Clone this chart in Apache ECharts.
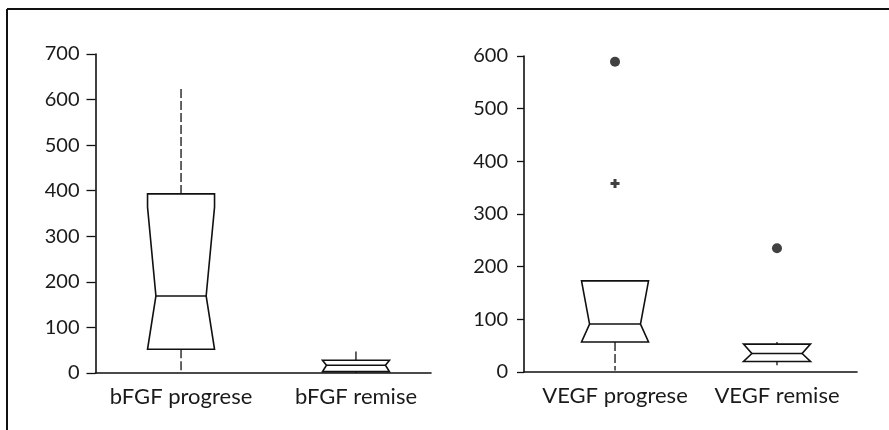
<!DOCTYPE html>
<html>
<head>
<meta charset="utf-8">
<script src="https://cdn.jsdelivr.net/npm/echarts@6/dist/echarts.min.js"></script>
<style>
html,body{margin:0;padding:0;background:#fff;}
#chart{width:889px;height:430px;}
</style>
</head>
<body>
<div id="chart"></div>
<script>
// ---- Left panel: bFGF ----
const bfgfCategories   = ['bFGF progrese', 'bFGF remise'];
const bfgfWhiskerLow   = [0, 0];
const bfgfQ1           = [52, 3];
const bfgfNotchLow     = [52, 3];
const bfgfMedian       = [169, 17];
const bfgfNotchHigh    = [364, 28];
const bfgfQ3           = [393, 28];
const bfgfWhiskerHigh  = [630, 47];
const bfgfNotchWaist   = [0.75, 0.88];
const bfgfTicks        = [0, 100, 200, 300, 400, 500, 600, 700];

// ---- Right panel: VEGF ----
const vegfCategories   = ['VEGF progrese', 'VEGF remise'];
const vegfWhiskerLow   = [3, 13];
const vegfQ1           = [57, 20];
const vegfNotchLow     = [57, 20];
const vegfMedian       = [91, 35];
const vegfNotchHigh    = [173, 53];
const vegfQ3           = [173, 53];
const vegfWhiskerHigh  = [173, 57];
const vegfNotchWaist   = [0.76, 0.75];
const vegfOutlierDots  = [[1, 589], [2, 235]];
const vegfOutlierPlus  = [[1, 358]];
const vegfTicks        = [0, 100, 200, 300, 400, 500, 600];

const FONT = 'Lato';
const INK = '#111';
const BOX_W = 67;

function boxData(cats, wl, q1, nl, md, nh, q3, wh, waist) {
  return cats.map((c, i) => [i + 1, wl[i], q1[i], nl[i], md[i], nh[i], q3[i], wh[i], waist[i]]);
}

function boxSeries(axisIndex, data) {
  return {
    type: 'custom',
    xAxisIndex: axisIndex,
    yAxisIndex: axisIndex,
    data: data,
    clip: false,
    renderItem: function (params, api) {
      const x = api.value(0);
      const wl = api.value(1), q1 = api.value(2), nl = api.value(3), md = api.value(4),
            nh = api.value(5), q3 = api.value(6), wh = api.value(7), waist = api.value(8);
      const cx = api.coord([x, 0])[0];
      const Y = v => api.coord([x, v])[1];
      const hw = BOX_W / 2;
      const yq1 = Y(q1), yq3 = Y(q3), ymd = Y(md);
      const ynl = Y(Math.max(nl, q1)), ynh = Y(Math.min(nh, q3));
      const pts = [
        [cx - hw, yq3], [cx - hw, ynh], [cx - hw * waist, ymd], [cx - hw, ynl], [cx - hw, yq1],
        [cx + hw, yq1], [cx + hw, ynl], [cx + hw * waist, ymd], [cx + hw, ynh], [cx + hw, yq3]
      ];
      const children = [];
      if (wh > q3) {
        children.push({ type: 'line', shape: { x1: cx, y1: yq3, x2: cx, y2: Y(wh) },
          style: { stroke: INK, lineWidth: 1.3, lineDash: [9, 3] } });
      }
      if (wl < q1) {
        children.push({ type: 'line', shape: { x1: cx, y1: yq1, x2: cx, y2: Y(wl) },
          style: { stroke: INK, lineWidth: 1.3, lineDash: [9, 3] } });
      }
      children.push({ type: 'polygon', shape: { points: pts },
        style: { fill: '#fff', stroke: INK, lineWidth: 1.6 } });
      children.push({ type: 'line', shape: { x1: cx - hw * waist, y1: ymd, x2: cx + hw * waist, y2: ymd },
        style: { stroke: INK, lineWidth: 1.4 } });
      return { type: 'group', children: children };
    }
  };
}

function xAxisFor(gridIndex, cats, min, max) {
  return {
    type: 'value', gridIndex: gridIndex, min: min, max: max,
    axisLine: { show: true, lineStyle: { color: INK, width: 1.6 } },
    axisTick: { show: false },
    splitLine: { show: false },
    axisLabel: {
      customValues: [1, 2],
      formatter: v => cats[Math.round(v) - 1] || '',
      fontFamily: FONT, fontSize: 22, color: '#1a1a1a', margin: 13
    }
  };
}

function yAxisFor(gridIndex, ticks, margin, tickLen) {
  return {
    type: 'value', gridIndex: gridIndex,
    min: ticks[0], max: ticks[ticks.length - 1], interval: ticks[1] - ticks[0],
    axisLine: { show: true, lineStyle: { color: INK, width: 1.6 } },
    axisTick: { show: true, length: tickLen, lineStyle: { color: INK, width: 1.3 } },
    splitLine: { show: false },
    axisLabel: { fontFamily: FONT, fontSize: 20, color: '#1a1a1a', margin: margin }
  };
}

const chart = echarts.init(document.getElementById('chart'), null, { renderer: 'canvas' });
chart.setOption({
  animation: false,
  backgroundColor: '#fff',
  grid: [
    { left: 95.5, right: 458, top: 54, bottom: 57 },
    { left: 524, right: 32, top: 56, bottom: 58 }
  ],
  xAxis: [
    xAxisFor(0, bfgfCategories, 0.511, 2.429),
    xAxisFor(1, vegfCategories, 0.438, 2.494)
  ],
  yAxis: [
    yAxisFor(0, bfgfTicks, 16, 9),
    yAxisFor(1, vegfTicks, 16, 7)
  ],
  graphic: [
    { type: 'line', shape: { x1: 7, y1: 9, x2: 889, y2: 9 }, style: { stroke: INK, lineWidth: 2 } },
    { type: 'line', shape: { x1: 7, y1: 9, x2: 7, y2: 430 }, style: { stroke: INK, lineWidth: 2 } }
  ],
  series: [
    boxSeries(0, boxData(bfgfCategories, bfgfWhiskerLow, bfgfQ1, bfgfNotchLow, bfgfMedian, bfgfNotchHigh, bfgfQ3, bfgfWhiskerHigh, bfgfNotchWaist)),
    boxSeries(1, boxData(vegfCategories, vegfWhiskerLow, vegfQ1, vegfNotchLow, vegfMedian, vegfNotchHigh, vegfQ3, vegfWhiskerHigh, vegfNotchWaist)),
    { type: 'scatter', xAxisIndex: 1, yAxisIndex: 1, data: vegfOutlierDots,
      symbol: 'circle', symbolSize: 10, itemStyle: { color: INK }, clip: false },
    { type: 'scatter', xAxisIndex: 1, yAxisIndex: 1, data: vegfOutlierPlus,
      symbol: 'path://M3,0H6V3H9V6H6V9H3V6H0V3H3Z', symbolSize: 9, itemStyle: { color: INK }, clip: false }
  ]
});
</script>
</body>
</html>
